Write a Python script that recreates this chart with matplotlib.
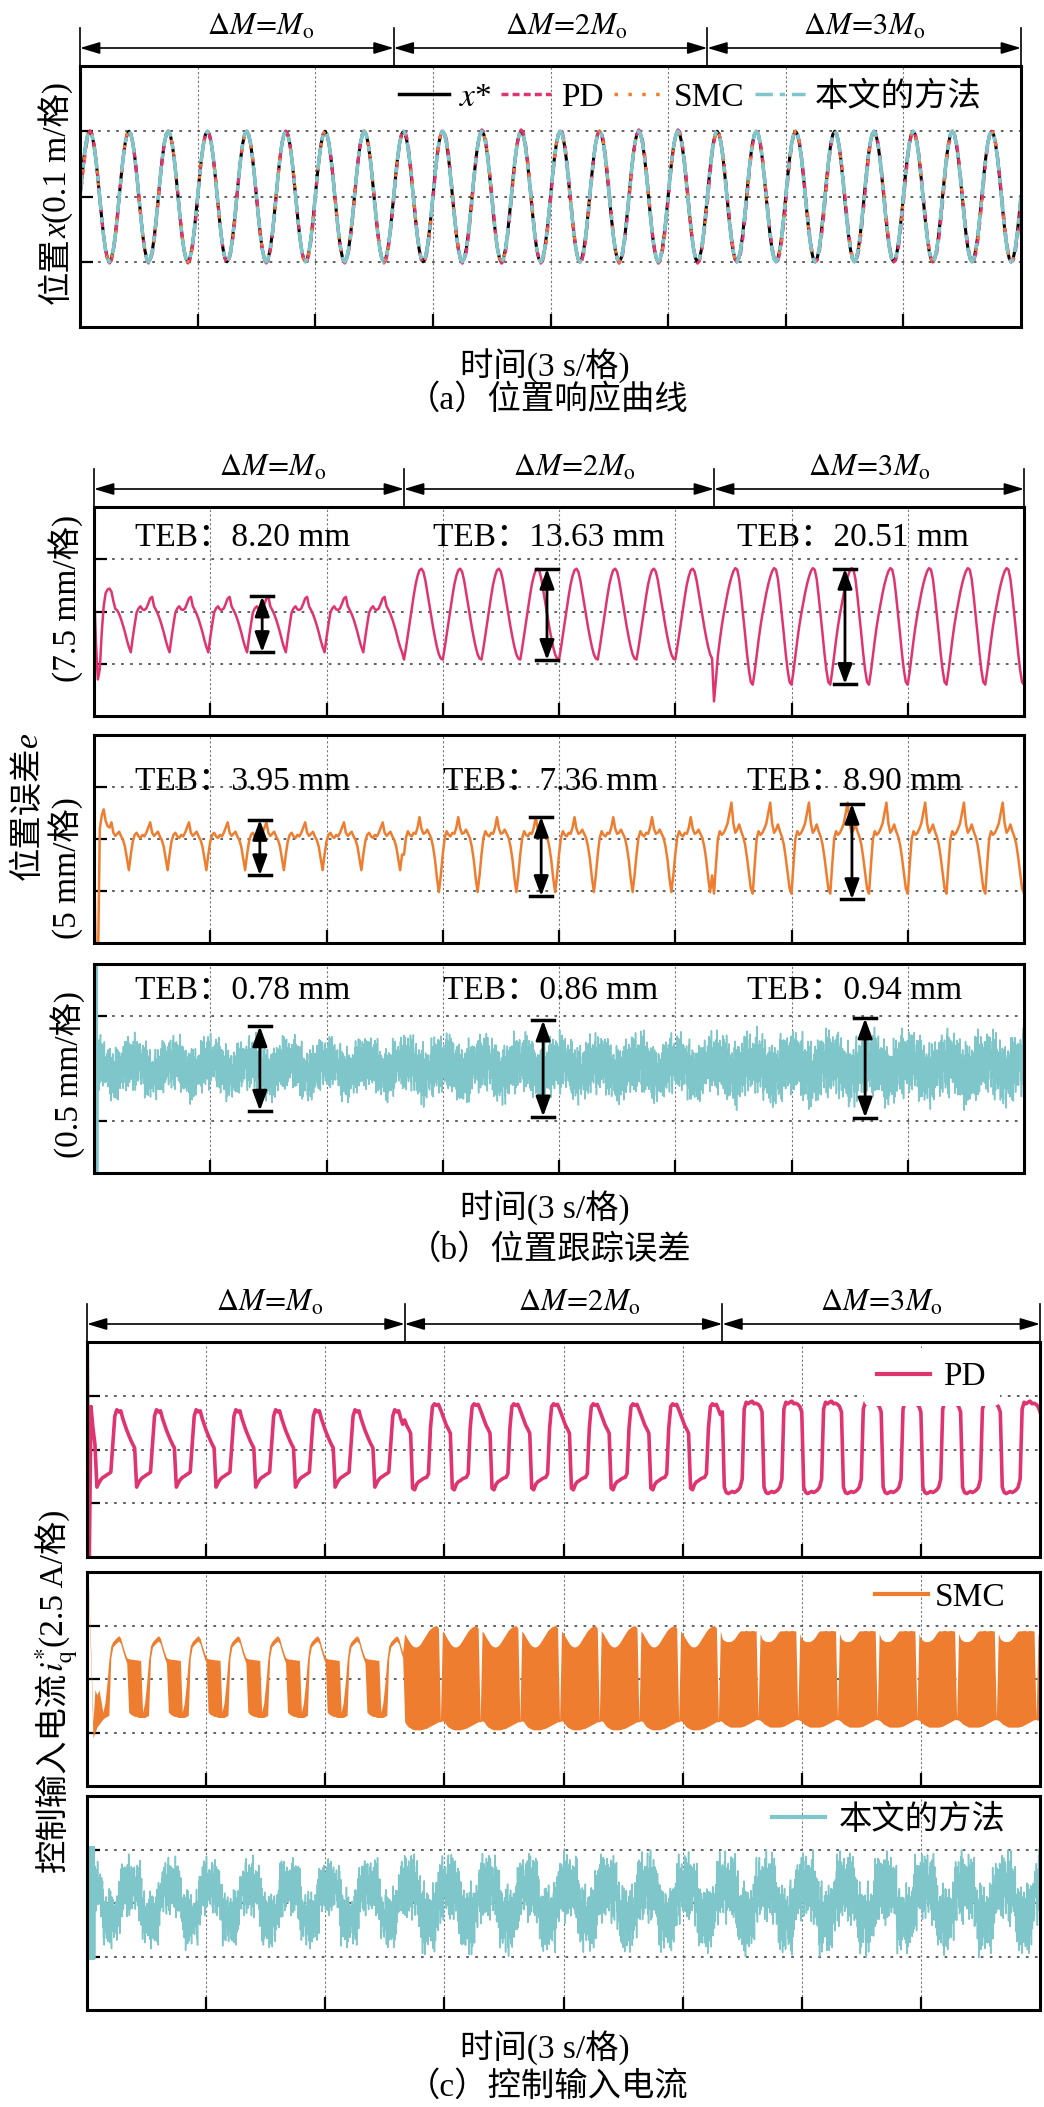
import matplotlib
matplotlib.use('agg')

import numpy as np
import matplotlib.pyplot as plt
from matplotlib import transforms
from matplotlib.lines import Line2D

plt.rcParams['font.family'] = ['Liberation Serif', 'Noto Sans CJK SC']
plt.rcParams['mathtext.fontset'] = 'stix'
plt.rcParams['axes.unicode_minus'] = False

# canvas in pixels (dpi 100)
W, H = 1044, 2107

C_PD = '#E03470'
C_SMC = '#EE7D2F'
C_NEW = '#7EC6C9'

# ---- load segments ----
CYC_PER_SEG = 8            # 1 s cycles per segment, 3 segments -> 24 s
seg_edges = [0, 8, 16, 24]
seg_labels = [r'$\Delta M\!=\!M_{\mathrm{o}}$', r'$\Delta M\!=\!2M_{\mathrm{o}}$',
              r'$\Delta M\!=\!3M_{\mathrm{o}}$']
seg_label_t = [4.6, 12.4, 20.0]

# ---- reference position, one cycle (20 samples / s), 0.1 m per div ----
x_ref_cycle = [0.00, 0.31, 0.59, 0.81, 0.95, 1.00, 0.95, 0.81, 0.59, 0.31,
               0.00, -0.31, -0.59, -0.81, -0.95, -1.00, -0.95, -0.81, -0.59, -0.31]

# ---- PD tracking error (7.5 mm/div), one cycle per segment ----
pd_err_s1 = [-0.50, -0.25, -0.02, 0.06, 0.10, 0.04, 0.03, 0.06, 0.15, 0.25,
             0.28, 0.10, 0.03, -0.05, -0.15, -0.27, -0.40, -0.55, -0.68, -0.78]
pd_err_s2 = [-0.92, -0.70, -0.45, -0.20, 0.05, 0.30, 0.52, 0.68, 0.79, 0.82,
             0.76, 0.60, 0.38, 0.15, -0.08, -0.30, -0.50, -0.68, -0.82, -0.90]
pd_err_s3 = [-1.40, -1.15, -0.85, -0.55, -0.28, -0.05, 0.15, 0.35, 0.52, 0.66,
             0.77, 0.83, 0.80, 0.62, 0.30, -0.05, -0.42, -0.80, -1.12, -1.35]
pd_err_start = [0.50, -0.60, -1.30, -1.10, -0.40, 0.10, 0.35, 0.42, 0.44, 0.38,
                0.20, 0.05, 0.02, -0.05, -0.15, -0.27, -0.40, -0.55, -0.68, -0.78]
pd_err_seg3_start = [-1.72, -1.30]

# ---- SMC tracking error (5 mm/div) ----
smc_err_s1 = [-0.05, 0.08, 0.12, 0.05, 0.02, 0.08, 0.05, 0.12, 0.22, 0.32,
              0.12, 0.06, 0.10, 0.14, 0.05, -0.02, -0.15, -0.38, -0.60, -0.30]
smc_err_s2 = [-0.30, 0.02, 0.15, 0.08, 0.05, 0.12, 0.10, 0.22, 0.42, 0.20,
              0.10, 0.12, 0.18, 0.10, 0.02, -0.15, -0.40, -0.75, -1.02, -0.70]
smc_err_s3 = [-1.05, -0.50, 0.00, 0.15, 0.08, 0.12, 0.20, 0.30, 0.50, 0.70,
              0.30, 0.12, 0.18, 0.28, 0.15, 0.05, -0.10, -0.35, -0.65, -0.95]
smc_err_start = [0.00, -2.60, -2.60, 0.20, 0.45, 0.57, 0.35, 0.25, 0.22, 0.32,
                 0.12, 0.06, 0.10, 0.14, 0.05, -0.02, -0.15, -0.38, -0.60, -0.30]

# ---- proposed method error (0.5 mm/div): slow part + hand-read ripple ----
new_err_base = [0.10, 0.12, 0.15, 0.12, 0.08, 0.05, 0.00, -0.05, -0.10, -0.12,
                -0.15, -0.12, -0.08, -0.05, 0.00, 0.05, 0.08, 0.10, 0.12, 0.10]
new_err_amp = [0.58, 0.64, 0.70]
new_err_start = [2.6, -2.6, 2.6, -2.6, 2.6, -2.6, 2.6, -2.6, 2.6, -2.6, 2.6, -2.6]

# ripple pattern and its burst heights (hand written, reused for both cyan traces)
ripple = [0.62, -0.35, 0.88, -0.71, 0.15, -0.94, 0.47, 0.05, -0.58, 0.79,
          -0.22, 0.96, -0.83, 0.31, -0.49, 0.68, -0.97, 0.24, 0.53, -0.66,
          0.91, -0.12, -0.77, 0.38, 0.84, -0.44, 0.09, -0.89, 0.72, -0.28,
          0.57, -0.61, 0.99, -0.05, -0.92, 0.43, 0.18, -0.74, 0.65, -0.38,
          0.81, -0.55, 0.27, -0.86, 0.74, -0.16, 0.49]
burst = [0.70, 1.00, 0.80, 0.60, 0.95, 0.72, 1.00, 0.62, 0.86, 0.92, 0.68, 1.00, 0.78]

# ---- PD control current (2.5 A/div) ----
pd_cur_s1 = [0.36, 0.27, 0.18, 0.10, 0.03, -0.70, -0.62, -0.56, -0.52, -0.50,
             -0.47, -0.45, -0.42, 0.10, 0.62, 0.74, 0.70, 0.72, 0.58, 0.47]
pd_cur_s2 = [0.55, 0.45, 0.38, 0.30, -0.72, -0.75, -0.65, -0.60, -0.58, -0.55,
             -0.53, -0.52, -0.45, 0.40, 0.80, 0.85, 0.82, 0.84, 0.75, 0.65]
pd_cur_s3 = [0.70, -0.70, -0.80, -0.82, -0.80, -0.78, -0.80, -0.78, -0.75, -0.70,
             -0.55, 0.75, 0.88, 0.85, 0.88, 0.90, 0.85, 0.86, 0.84, 0.80]
pd_cur_start = [2.6, -2.6, 0.80, 0.40, 0.10, -0.70, -0.62, -0.56, -0.52, -0.50,
                -0.47, -0.45, -0.42, 0.10, 0.62, 0.74, 0.70, 0.72, 0.58, 0.47]

# ---- SMC control current: upper / lower edge of the chattering band ----
smc_hi_s1 = [0.40, 0.38, 0.37, 0.37, 0.36, 0.36, 0.35, 0.35, -0.62, -0.45,
             -0.10, 0.35, 0.62, 0.70, 0.74, 0.78, 0.81, 0.76, 0.62, 0.50]
smc_lo_s1 = [0.30, -0.62, -0.66, -0.68, -0.70, -0.70, -0.72, -0.72, -0.72, -0.72,
             -0.70, -0.68, 0.40, 0.60, 0.64, 0.68, 0.71, 0.66, 0.52, 0.40]
smc_hi_s2 = [0.85, 0.78, 0.72, 0.66, 0.62, 0.60, 0.60, 0.62, 0.66, 0.72,
             0.78, 0.84, 0.90, 0.94, 0.97, 0.99, 1.00, 0.95, -0.80, 0.90]
smc_lo_s2 = [-0.80, -0.86, -0.90, -0.92, -0.94, -0.95, -0.95, -0.95, -0.95, -0.94,
             -0.93, -0.92, -0.90, -0.88, -0.86, -0.84, -0.82, -0.80, -0.80, -0.78]
smc_hi_s3 = [0.75, 0.72, 0.70, 0.70, 0.70, 0.72, 0.75, 0.80, 0.86, 0.90,
             0.90, 0.90, 0.91, 0.90, 0.90, 0.91, 0.90, 0.90, -0.75, 0.85]
smc_lo_s3 = [-0.80, -0.84, -0.86, -0.88, -0.90, -0.90, -0.90, -0.90, -0.90, -0.90,
             -0.89, -0.88, -0.86, -0.84, -0.82, -0.80, -0.78, -0.76, -0.76, -0.77]
smc_hi_start = [2.6, 1.5, 0.4, -0.80, -0.20, -0.30, -0.20, -0.40, -0.62, -0.45,
                -0.10, 0.35, 0.62, 0.70, 0.74, 0.78, 0.81, 0.76, 0.62, 0.50]
smc_lo_start = [2.4, 1.3, 0.2, -1.10, -1.00, -0.90, -0.85, -0.80, -0.75, -0.72,
                -0.70, -0.68, 0.40, 0.60, 0.64, 0.68, 0.71, 0.66, 0.52, 0.40]

# ---- proposed method current ----
new_cur_base = [0.28, 0.32, 0.30, 0.30, 0.28, 0.30, 0.25, 0.05, -0.25, -0.30,
                -0.30, -0.28, -0.32, -0.30, -0.28, -0.25, -0.05, 0.20, 0.28, 0.30]
new_cur_amp = [0.60, 0.72, 0.74]
new_cur_start = [1.05, -1.05] * 12

# ---- TEB annotations ----
teb_pd = ['8.20', '13.63', '20.51']
teb_smc = ['3.95', '7.36', '8.90']
teb_new = ['0.78', '0.86', '0.94']
teb_text_t = {'pd': [1.05, 8.75, 16.6], 'smc': [1.05, 9.0, 16.85], 'new': [1.05, 9.0, 16.85]}
teb_text_y = {'pd': 1.41, 'smc': 1.10, 'new': 1.48}
teb_arrow_t = {'pd': [4.34, 11.69, 19.38], 'smc': [4.28, 11.54, 19.56], 'new': [4.28, 11.59, 19.90]}
teb_top = {'pd': [0.29, 0.82, 0.82], 'smc': [0.37, 0.43, 0.68], 'new': [0.81, 0.92, 0.96]}
teb_bot = {'pd': [-0.78, -0.93, -1.39], 'smc': [-0.70, -1.10, -1.16], 'new': [-0.81, -0.92, -0.94]}

FINE = 6   # cyan traces: each cycle sample held for 6 steps (120 samples / s)


def series(segs, k=1):
    per = len(segs[0]) * k
    y = np.concatenate([np.tile(np.repeat(np.asarray(s, float), k), CYC_PER_SEG) for s in segs])
    y = np.append(y, y[-per])
    return np.arange(len(y)) / per, y


def put(y, per, t0, vals):
    i0 = int(round(t0 * per))
    y[i0:i0 + len(vals)] = vals


def with_ripple(base, amp):
    t, y = series([base] * 3, k=FINE)
    rip = np.resize(np.array(ripple), len(y))
    bur = np.resize(np.repeat(burst, 11), len(y))
    a = np.append(np.repeat(amp, CYC_PER_SEG * 20 * FINE), amp[-1])
    return t, y + rip * bur * a


t20, x_ref = series([x_ref_cycle] * 3)
_, e_pd = series([pd_err_s1, pd_err_s2, pd_err_s3])
put(e_pd, 20, 0, pd_err_start)
put(e_pd, 20, 16, pd_err_seg3_start)
_, e_smc = series([smc_err_s1, smc_err_s2, smc_err_s3])
put(e_smc, 20, 0, smc_err_start)
t_fine, e_new = with_ripple(new_err_base, new_err_amp)
put(e_new, 20 * FINE, 0, new_err_start)

_, i_pd = series([pd_cur_s1, pd_cur_s2, pd_cur_s3])
put(i_pd, 20, 0, pd_cur_start)
_, i_smc_hi = series([smc_hi_s1, smc_hi_s2, smc_hi_s3])
_, i_smc_lo = series([smc_lo_s1, smc_lo_s2, smc_lo_s3])
put(i_smc_hi, 20, 0, smc_hi_start)
put(i_smc_lo, 20, 0, smc_lo_start)
_, i_new = with_ripple(new_cur_base, new_cur_amp)
put(i_new, 20 * FINE, 0, new_cur_start)

# positions in panel (a): x = x* + e (converted from mm to 0.1 m/div)
x_pd = x_ref + e_pd * 7.5 / 100
x_smc = x_ref + e_smc * 5 / 100
x_new = x_ref

fig = plt.figure(figsize=(W / 100, H / 100), dpi=100)


def make_ax(l, r, t, b):
    ax = fig.add_axes([l / W, 1 - b / H, (r - l) / W, (b - t) / H])
    ax.set_xlim(0, 24)
    ax.set_ylim(-2, 2)
    ax.set_xticks([3, 6, 9, 12, 15, 18, 21])
    ax.set_yticks([-1, 0, 1])
    ax.tick_params(direction='in', length=9.5, width=1.6, labelleft=False, labelbottom=False)
    ax.xaxis.grid(True, ls=(0, (2, 2)), lw=0.8, color='#777777')
    ax.yaxis.grid(True, ls=(0, (1.5, 3.5)), lw=1.3, color='#555555')
    ax.set_axisbelow(True)
    for s in ax.spines.values():
        s.set_linewidth(2.2)
    return ax


def brackets(ax):
    hp = ax.get_position().height * H
    tr = transforms.blended_transform_factory(ax.transData, ax.transAxes)
    for e in seg_edges:
        ax.plot([e, e], [1, 1 + 38 / hp], transform=tr, color='k', lw=1.2, clip_on=False)
    ya = 1 + 18 / hp
    for i in range(3):
        ax.annotate('', xy=(seg_edges[i], ya), xytext=(seg_edges[i + 1], ya), xycoords=tr,
                    arrowprops=dict(arrowstyle='<|-|>,head_length=0.6,head_width=0.18',
                                    color='k', lw=1.2, shrinkA=0, shrinkB=0, mutation_scale=20))
        ax.text(seg_label_t[i], 1 + 31 / hp, seg_labels[i], transform=tr,
                ha='center', va='baseline', fontsize=22)


def teb(ax, key, values):
    for i in range(3):
        ax.text(teb_text_t[key][i], teb_text_y[key], 'TEB：' + values[i] + ' mm',
                fontsize=24, va='center', ha='left')
        x, top, bot = teb_arrow_t[key][i], teb_top[key][i], teb_bot[key][i]
        ax.annotate('', xy=(x, top), xytext=(x, bot),
                    arrowprops=dict(arrowstyle='<|-|>,head_length=0.6,head_width=0.22',
                                    color='k', lw=2, shrinkA=0, shrinkB=0, mutation_scale=20))
        ax.plot([x - 0.28, x + 0.28], [top, top], color='k', lw=2.5)
        ax.plot([x - 0.28, x + 0.28], [bot, bot], color='k', lw=2.5)


def vlabel(x_px, yc_px, parts, size=24):
    r = fig.canvas.get_renderer()
    objs = [fig.text(0, 0, s, fontsize=size, rotation=90, rotation_mode='anchor',
                     ha='left', va='baseline', **kw) for s, kw in parts]
    lens = [o.get_window_extent(r).height for o in objs]
    y = yc_px + sum(lens) / 2
    for o, L in zip(objs, lens):
        o.set_position((x_px / W, 1 - y / H))
        y -= L


def htext(x_px, y_px, s, size=24):
    fig.text(x_px / W, 1 - y_px / H, s, fontsize=size, ha='center', va='center')


# ---------------- (a) position response ----------------
ax = make_ax(80, 1021, 66, 327)
ax.plot(t20, x_ref, color='k', lw=2.2)
ax.plot(t20, x_pd, color=C_PD, lw=2.2, ls=(0, (3, 2)))
ax.plot(t20, x_smc, color=C_SMC, lw=2.2, ls=(0, (1, 3)))
ax.plot(t20, x_new, color=C_NEW, lw=2.6, ls=(0, (6, 2, 1.5, 2)))
brackets(ax)
hand = [Line2D([], [], color='k', lw=2.5),
        Line2D([], [], color=C_PD, lw=2.5, ls=(0, (2, 1.2))),
        Line2D([], [], color=C_SMC, lw=2.5, ls=(0, (1, 3))),
        Line2D([], [], color=C_NEW, lw=2.5, ls=(0, (5, 2, 1.5, 2)))]
ax.legend(hand, [r'$x$*', 'PD', 'SMC', '本文的方法'], ncol=4, loc='center right',
          bbox_to_anchor=(0.99, 0.881), frameon=False, fontsize=24, handlelength=1.5,
          handletextpad=0.3, columnspacing=0.3, borderpad=0.4)
vlabel(66, 193, [('位置', {}), ('x', {'style': 'italic'}), ('(0.1 m/格)', {})])
htext(545, 366, '时间(3 s/格)')
htext(548, 400, '（a）位置响应曲线')

# ---------------- (b) tracking error ----------------
ax = make_ax(94, 1024, 507, 716)
ax.plot(t20, e_pd, color=C_PD, lw=1.8)
brackets(ax)
teb(ax, 'pd', teb_pd)
vlabel(76, 598, [('(7.5 mm/格)', {})])

ax = make_ax(94, 1024, 735, 943)
ax.plot(t20, e_smc, color=C_SMC, lw=1.8)
teb(ax, 'smc', teb_smc)
vlabel(37, 806, [('位置误差', {}), ('e', {'style': 'italic'})])
vlabel(76, 868, [('(5 mm/格)', {})])

ax = make_ax(94, 1024, 964, 1173)
ax.plot(t_fine, e_new, color=C_NEW, lw=1.1)
teb(ax, 'new', teb_new)
vlabel(78, 1075, [('(0.5 mm/格)', {})])
htext(545, 1209, '时间(3 s/格)')
htext(550, 1250, '（b）位置跟踪误差')

# ---------------- (c) control current ----------------
ax = make_ax(87, 1040, 1342, 1557)
ax.plot(t20, i_pd, color=C_PD, lw=2.6)
brackets(ax)
ax.legend([Line2D([], [], color=C_PD, lw=3)], ['PD'], loc='center right',
          bbox_to_anchor=(0.975, 0.837), frameon=True, facecolor='white', edgecolor='none',
          framealpha=1, fontsize=24, handlelength=1.6, handletextpad=0.4)

ax = make_ax(87, 1040, 1572, 1786)
ax.fill_between(t20, i_smc_lo, i_smc_hi, color=C_SMC, lw=0)
ax.legend([Line2D([], [], color=C_SMC, lw=3)], ['SMC'], loc='center right',
          bbox_to_anchor=(0.995, 0.879), frameon=False, fontsize=24, handlelength=1.6,
          handletextpad=0.2)
vlabel(63, 1691, [('控制输入电流', {}), (r'$i_{\mathrm{q}}^{*}$', {}), ('(2.5 A/格)', {})])

ax = make_ax(87, 1040, 1796, 2010)
ax.plot(t_fine, i_new, color=C_NEW, lw=1.1)
ax.legend([Line2D([], [], color=C_NEW, lw=3)], ['本文的方法'], loc='center right',
          bbox_to_anchor=(0.995, 0.888), frameon=False, fontsize=24, handlelength=1.6,
          handletextpad=0.4)
htext(545, 2049, '时间(3 s/格)')
htext(548, 2087, '（c）控制输入电流')

fig.savefig('out.png', dpi=100)
